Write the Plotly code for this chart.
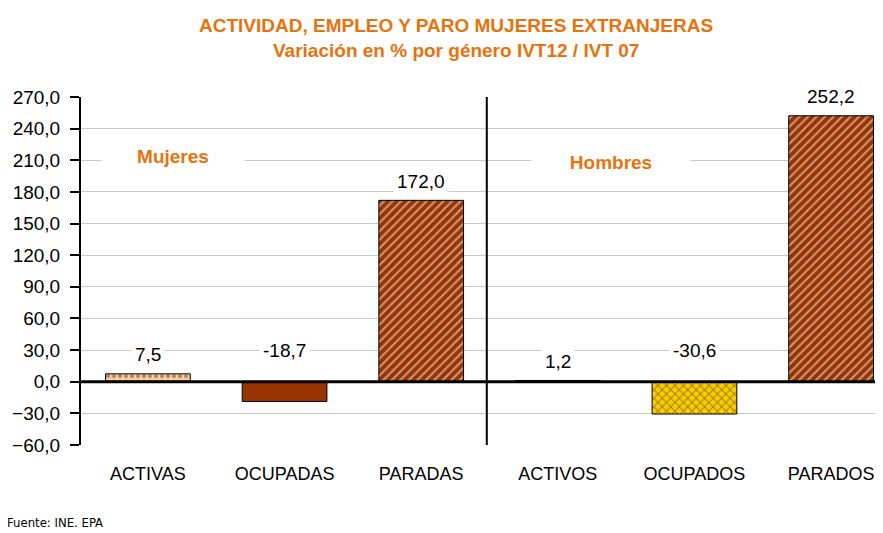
import plotly.graph_objects as go

categories = ["ACTIVAS", "OCUPADAS", "PARADAS", "ACTIVOS", "OCUPADOS", "PARADOS"]
values = [7.5, -18.7, 172.0, 1.2, -30.6, 252.2]
value_labels = ["7,5", "-18,7", "172,0", "1,2", "-30,6", "252,2"]
group_labels = ["Mujeres", "Hombres"]
y_ticks = [-60, -30, 0, 30, 60, 90, 120, 150, 180, 210, 240, 270]

fill_colors = ["#FFCC99", "#993300", "#993300", "#FFCC99", "#FFCC00", "#993300"]
pattern_shapes = [".", "", "/", ".", "x", "/"]
pattern_fg = ["#E0782A", "#993300", "#F2B48C", "#E0782A", "#FFF0A0", "#F2B48C"]

ORANGE = "#E8720C"
FONT = "Liberation Sans, Arial, sans-serif"

fig = go.Figure()
fig.add_trace(go.Bar(
    x=categories, y=values, width=0.62,
    marker=dict(
        color=fill_colors,
        line=dict(color="#000000", width=1),
        pattern=dict(shape=pattern_shapes, fgcolor=pattern_fg, bgcolor=fill_colors,
                     size=6, solidity=0.35, fillmode="overlay"),
    ),
    hoverinfo="skip",
))

for cat, v, lab in zip(categories, values, value_labels):
    if v >= 0:
        fig.add_annotation(x=cat, y=v, text=lab, showarrow=False, yshift=19,
                           font=dict(family=FONT, size=19, color="#000"),
                           bgcolor="white", borderpad=3)
    else:
        fig.add_annotation(x=cat, y=0, text=lab, showarrow=False, yshift=31,
                           font=dict(family=FONT, size=19, color="#000"),
                           bgcolor="white", borderpad=3)

fig.add_annotation(x=0.18, y=210, xref="x", yref="y", text="<b>" + group_labels[0] + "</b>",
                   showarrow=False, yshift=4, font=dict(family=FONT, size=19, color=ORANGE),
                   bgcolor="white", width=140, height=24)
fig.add_annotation(x=3.39, y=210, xref="x", yref="y", text="<b>" + group_labels[1] + "</b>",
                   showarrow=False, yshift=-2, font=dict(family=FONT, size=19, color=ORANGE),
                   bgcolor="white", width=156, height=24)

# page body has an 8px margin: shrink figure so plot area lands at the reference position
fig.update_layout(
    width=875, height=525,
    margin=dict(l=73, r=0, t=89, b=88),
    paper_bgcolor="white", plot_bgcolor="white",
    separators=",.",
    showlegend=False,
    font=dict(family=FONT, size=16, color="#000"),
    xaxis=dict(range=[-0.49, 5.38], showgrid=False, ticks="", showline=False,
               tickfont=dict(family=FONT, size=18, color="#000"), ticklabelstandoff=16,
               fixedrange=True, automargin=False),
    yaxis=dict(range=[-60, 270], tickvals=y_ticks, tickformat=".1f",
               showgrid=True, gridcolor="#C8C8C8", gridwidth=1,
               zeroline=False, showline=True, linecolor="#000", linewidth=2,
               ticks="outside", ticklen=9, tickwidth=2, tickcolor="#000",
               ticklabelstandoff=6, automargin=False,
               tickfont=dict(family=FONT, size=19, color="#000")),
)

# title lines
fig.add_annotation(x=0.4676, y=1.0, xref="paper", yref="paper", yanchor="middle", yshift=72,
                   showarrow=False,
                   text="<b>ACTIVIDAD, EMPLEO Y PARO MUJERES EXTRANJERAS</b>",
                   font=dict(family=FONT, size=19, color=ORANGE))
fig.add_annotation(x=0.4676, y=1.0, xref="paper", yref="paper", yanchor="middle", yshift=47,
                   showarrow=False,
                   text="<b>Variación en % por género IVT12 / IVT 07</b>",
                   font=dict(family=FONT, size=19, color=ORANGE))
fig.add_annotation(x=-0.0948, y=0, xref="paper", yref="paper", xanchor="left", yanchor="middle",
                   yshift=-77, showarrow=False, text="Fuente: INE. EPA",
                   font=dict(family="DejaVu Sans Condensed, sans-serif", size=13, color="#000"))

# zero line and separator
fig.add_shape(type="line", xref="paper", x0=0, x1=1, yref="y", y0=0, y1=0,
              line=dict(color="#000", width=3), layer="above")
fig.add_shape(type="line", xref="x", x0=2.48, x1=2.48, yref="y", y0=-60, y1=270,
              line=dict(color="#000", width=2), layer="above")

fig.write_html("out.html")
